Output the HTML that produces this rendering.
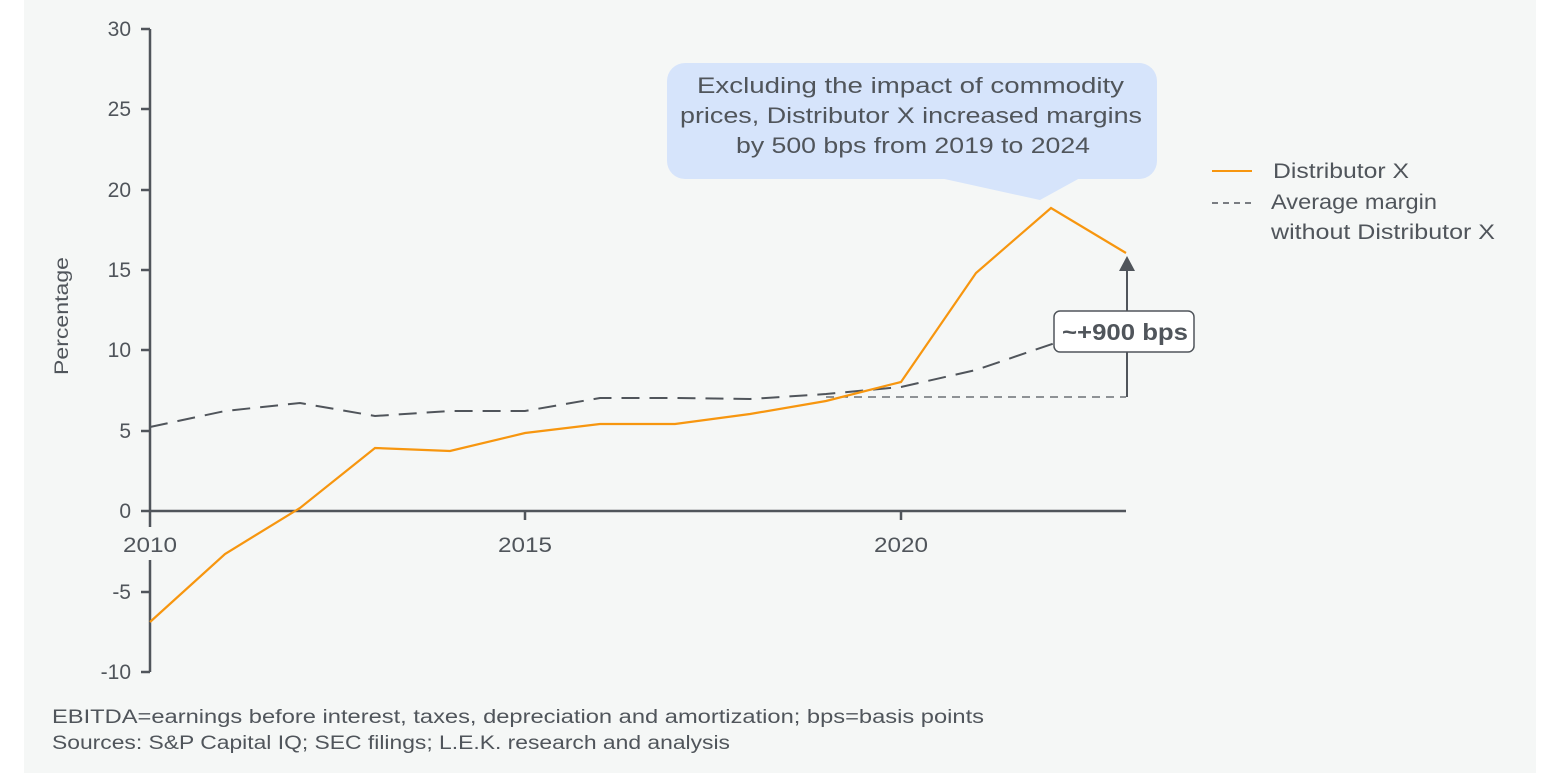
<!DOCTYPE html>
<html><head><meta charset="utf-8"><style>
body{margin:0;background:#fff;width:1560px;height:775px;overflow:hidden}
svg{display:block}
text{font-family:"Liberation Sans",sans-serif;fill:#50555b}
</style></head><body>
<svg width="1560" height="775" viewBox="0 0 1560 775">
<rect x="24" y="0" width="1512" height="773" fill="#f5f7f6"/>
<g stroke="#50555b" stroke-width="2.5" fill="none">
<line x1="150" y1="29" x2="150" y2="527"/>
<line x1="150" y1="560" x2="150" y2="672"/>
<line x1="150" y1="511" x2="1126" y2="511"/>
<line x1="141" y1="29" x2="150" y2="29"/>
<line x1="141" y1="109" x2="150" y2="109"/>
<line x1="141" y1="190" x2="150" y2="190"/>
<line x1="141" y1="270" x2="150" y2="270"/>
<line x1="141" y1="350" x2="150" y2="350"/>
<line x1="141" y1="431" x2="150" y2="431"/>
<line x1="141" y1="511" x2="150" y2="511"/>
<line x1="141" y1="592" x2="150" y2="592"/>
<line x1="141" y1="672" x2="150" y2="672"/>
<line x1="525" y1="511" x2="525" y2="520"/>
<line x1="901" y1="511" x2="901" y2="520"/>
</g>
<g font-size="21" text-anchor="end">
<text x="131" y="36">30</text><text x="131" y="116">25</text><text x="131" y="197">20</text>
<text x="131" y="277">15</text><text x="131" y="357">10</text><text x="131" y="438">5</text>
<text x="131" y="518">0</text><text x="131" y="599">-5</text><text x="131" y="679">-10</text>
</g>
<g font-size="21" text-anchor="middle">
<text x="150" y="552" textLength="54" lengthAdjust="spacingAndGlyphs">2010</text><text x="525" y="552" textLength="54" lengthAdjust="spacingAndGlyphs">2015</text><text x="901" y="552" textLength="54" lengthAdjust="spacingAndGlyphs">2020</text>
</g>
<text x="68" y="316" font-size="19" text-anchor="middle" transform="rotate(-90 68 316)" textLength="118" lengthAdjust="spacingAndGlyphs">Percentage</text>
<polyline points="150,427 225,411 300,403 375,416 450,411 525,411 600,398 675,398 750,399 826,394 901,387 976,370 1055,343" fill="none" stroke="#50555b" stroke-width="2" stroke-dasharray="18,10"/>
<line x1="826" y1="397" x2="1126" y2="397" stroke="#50555b" stroke-width="1.3" stroke-dasharray="8,6"/>
<polyline points="150,622 225,554 300,508 375,448 450,451 525,433 600,424 675,424 750,414 826,401 901,382 976,273 1051,208 1126,253" fill="none" stroke="#f7960f" stroke-width="2.2"/>
<line x1="1127" y1="397" x2="1127" y2="268" stroke="#50555b" stroke-width="2"/>
<polygon points="1127,256 1119,271 1135,271" fill="#50555b"/>
<rect x="1054" y="311" width="140" height="41" rx="6" fill="#fff" stroke="#50555b" stroke-width="1.5"/>
<text x="1062" y="340" font-size="23" font-weight="bold" textLength="126" lengthAdjust="spacingAndGlyphs">~+900 bps</text>
<rect x="667" y="63" width="490" height="116" rx="18" fill="#d6e4fb"/>
<polygon points="940,178 1040,200 1080,178" fill="#d6e4fb"/>
<g font-size="22">
<text x="697" y="93" textLength="427" lengthAdjust="spacingAndGlyphs">Excluding the impact of commodity</text>
<text x="680" y="123" textLength="462" lengthAdjust="spacingAndGlyphs">prices, Distributor X increased margins</text>
<text x="736" y="153" textLength="354" lengthAdjust="spacingAndGlyphs">by 500 bps from 2019 to 2024</text>
</g>
<line x1="1212" y1="171" x2="1252" y2="171" stroke="#f7960f" stroke-width="2"/>
<text x="1273" y="178" font-size="21" textLength="136" lengthAdjust="spacingAndGlyphs">Distributor X</text>
<line x1="1212" y1="203" x2="1252" y2="203" stroke="#50555b" stroke-width="1.5" stroke-dasharray="6,5"/>
<text x="1271" y="209" font-size="21" textLength="166" lengthAdjust="spacingAndGlyphs">Average margin</text>
<text x="1271" y="239" font-size="21" textLength="224" lengthAdjust="spacingAndGlyphs">without Distributor X</text>
<g font-size="19">
<text x="52" y="723" textLength="932" lengthAdjust="spacingAndGlyphs">EBITDA=earnings before interest, taxes, depreciation and amortization; bps=basis points</text>
<text x="52" y="749" textLength="678" lengthAdjust="spacingAndGlyphs">Sources: S&amp;P Capital IQ; SEC filings; L.E.K. research and analysis</text>
</g>
</svg>
</body></html>
